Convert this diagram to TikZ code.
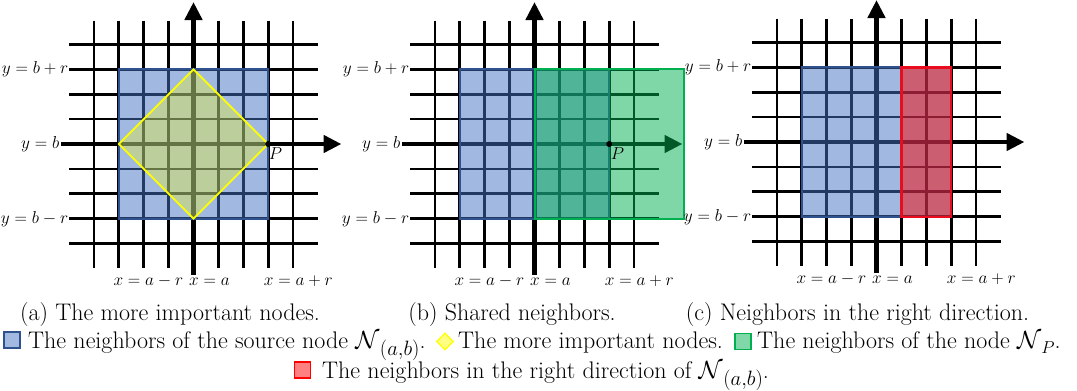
\documentclass[tikz,border=0pt]{standalone}
\usetikzlibrary{arrows.meta,shapes.geometric}
\definecolor{nbblue}{RGB}{68,114,196}
\definecolor{nbblueedge}{RGB}{47,82,143}
\definecolor{nbgreen}{RGB}{0,176,80}
\definecolor{nbred}{RGB}{187,40,67}
\definecolor{nbrededge}{RGB}{232,12,30}
\definecolor{nbyellow}{RGB}{255,255,0}
\definecolor{legblue}{RGB}{162,185,226}
\definecolor{leggreen}{RGB}{128,216,168}
\definecolor{legred}{RGB}{255,128,128}
\definecolor{legyellow}{RGB}{255,255,130}
\newcommand{\Nab}{$\mathcal{N}$\kern0.5pt\raisebox{-7pt}{\fontsize{20}{20}\selectfont$(a{,}b)$}}
\newcommand{\NP}{$\mathcal{N}$\raisebox{-5pt}{\fontsize{18}{18}\selectfont$P$}}
\begin{document}
\begin{tikzpicture}[x=1pt,y=-1pt,
  gridline/.style={line width=2.7pt,black},
  axisline/.style={line width=4.5pt,black,-{Triangle[length=18pt,width=17pt]}},
  lbl/.style={inner sep=0pt,font=\fontsize{16}{19}\selectfont},
  captext/.style={inner sep=0pt,font=\fontsize{24}{28}\selectfont},
  legsq/.style={rectangle,minimum size=16pt,inner sep=0pt,line width=1.8pt},
  legdia/.style={diamond,minimum size=17pt,inner sep=0pt,line width=1.2pt,draw=nbyellow,fill=legyellow},
  blueregion/.style={fill=nbblue,fill opacity=0.5,draw=nbblueedge,line width=2pt},
  greenregion/.style={fill=nbgreen,fill opacity=0.5,draw=nbgreen,draw opacity=1,line width=2pt},
  redregion/.style={fill=nbred,fill opacity=0.75,draw=nbrededge,draw opacity=1,line width=2.4pt},
  yellowregion/.style={fill=nbyellow,fill opacity=0.3,draw=nbyellow,draw opacity=1,line width=1.8pt},
  pdot/.style={circle,fill=black,inner sep=0pt,minimum size=6pt}
]
\useasboundingbox (0,0) rectangle (1077,391);
\def\cs{24.9}
\newcommand{\drawgrid}[3]{%
  \foreach \k in {-4,...,4} {
    \pgfmathsetmacro{\xx}{#1+\k*\cs}
    \pgfmathsetmacro{\yy}{#2+\k*\cs}
    \draw[gridline] (\xx,#2-123.5) -- (\xx,#2+124);
    \draw[gridline] (#1-124.5,\yy) -- (#1+124.5,\yy);
  }
  \coordinate (#3-vb) at (#1,#2+131);
  \coordinate (#3-vt) at (#1,#2-142);
  \coordinate (#3-hl) at (#1-132.5,#2);
  \coordinate (#3-hr) at (#1+148,#2);
  \draw[axisline] (#3-vb) -- (#3-vt);
  \draw[axisline] (#3-hl) -- (#3-hr);
}
\newcommand{\drawlabels}[3]{%
  \node[lbl,anchor=east] (#3-ybr) at (#1-125,#2-3*\cs) {$y=b+r$};
  \node[lbl,anchor=east] (#3-yb) at (#1-134,#2) {$y=b$};
  \node[lbl,anchor=east] (#3-ybmr) at (#1-125,#2+3*\cs) {$y=b-r$};
  \node[lbl,anchor=base west] (#3-xamr) at (#1-3*\cs-5.5,#2+141.5) {$x=a-r$};
  \node[lbl,anchor=base west] (#3-xa) at (#1-4.5,#2+141.5) {$x=a$};
  \node[lbl,anchor=base west] (#3-xapr) at (#1+3*\cs-4.5,#2+141.5) {$x=a+r$};
}
% ---------- panel (a)
\def\ox{193.5}\def\oy{144}
\drawgrid{\ox}{\oy}{A}
\draw[blueregion] (\ox-3*\cs,\oy-3*\cs) rectangle (\ox+3*\cs,\oy+3*\cs);
\draw[yellowregion] (\ox,\oy-3*\cs) -- (\ox+3*\cs,\oy) -- (\ox,\oy+3*\cs) -- (\ox-3*\cs,\oy) -- cycle;
\node[pdot] (A-P) at (\ox+3*\cs,\oy) {};
\node[lbl,anchor=north west] (A-Pl) at (\ox+3*\cs+0.5,\oy+3) {$P$};
\drawlabels{\ox}{\oy}{A}
% ---------- panel (b)
\def\ox{534.5}\def\oy{144}
\drawgrid{\ox}{\oy}{B}
\draw[blueregion] (\ox-3*\cs,\oy-3*\cs) rectangle (\ox+3*\cs,\oy+3*\cs);
\draw[greenregion] (\ox,\oy-3*\cs) rectangle (\ox+6*\cs,\oy+3*\cs);
\node[pdot] (B-P) at (\ox+3*\cs,\oy) {};
\node[lbl,anchor=north west] (B-Pl) at (\ox+3*\cs+1.5,\oy+3) {$P$};
\drawlabels{\ox}{\oy}{B}
% ---------- panel (c)
\def\ox{876.5}\def\oy{142}
\drawgrid{\ox}{\oy}{C}
\draw[blueregion] (\ox-3*\cs,\oy-3*\cs) rectangle (\ox+\cs,\oy+3*\cs);
\draw[redregion] (\ox+\cs,\oy-3*\cs) rectangle (\ox+3*\cs,\oy+3*\cs);
\drawlabels{\ox}{\oy}{C}
% ---------- captions
\node[captext,anchor=base] (capa) at (170,320) {(a) The more important nodes.};
\node[captext,anchor=base] (capb) at (512,320) {(b) Shared neighbors.};
\node[captext,anchor=base] (capc) at (857.5,320) {(c) Neighbors in the right direction.};
% ---------- legend
\node[legsq,draw=nbblueedge,fill=legblue] (lgb) at (12,340) {};
\node[captext,anchor=base west] (lgbt) at (28,348) {The neighbors of the source node \Nab.};
\node[legdia] (lgy) at (445,341.5) {};
\node[captext,anchor=base west] (lgyt) at (458,348) {The more important nodes.};
\node[legsq,draw=nbgreen,fill=leggreen] (lgg) at (743,341.5) {};
\node[captext,anchor=base west] (lggt) at (757,348) {The neighbors of the node \NP.};
\node[legsq,draw=red,fill=legred] (lgr) at (302.5,370) {};
\node[captext,anchor=base west] (lgrt) at (322,378) {The neighbors in the right direction of \Nab.};
\end{tikzpicture}
\end{document}
